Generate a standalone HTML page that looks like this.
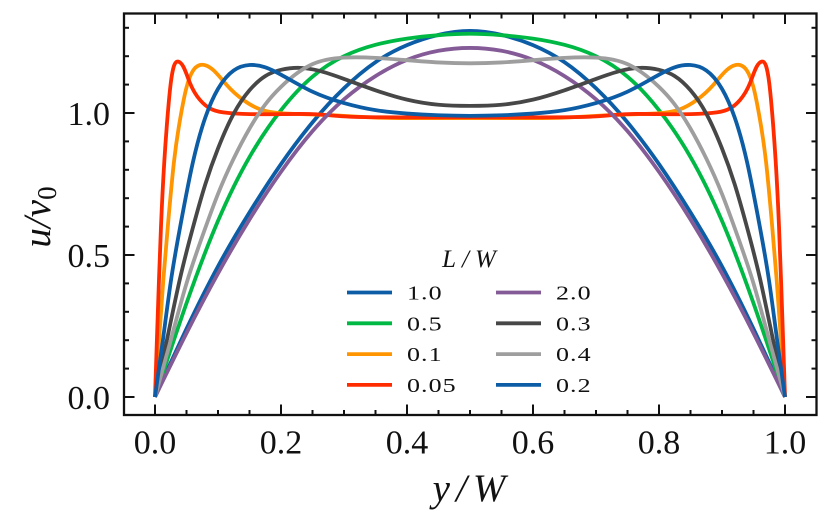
<!DOCTYPE html>
<html lang="en">
<head>
<meta charset="utf-8">
<title>Velocity profiles u/v0 against y/W</title>
<style>
html,body{margin:0;padding:0;background:#fff;width:829px;height:525px;overflow:hidden}
svg{display:block}
text{font-family:"Liberation Serif",serif;fill:#111}
</style>
</head>
<body>
<svg id="chart" width="829" height="525" viewBox="0 0 829 525" xmlns="http://www.w3.org/2000/svg">
  <g id="curves"></g>
  <g id="ticks"></g>
  <rect x="124" y="13.5" width="692.5" height="401.5" fill="none" stroke="#111" stroke-width="2.3"></rect>
  <g id="tick-labels"></g>
  <text x="472" y="501" text-anchor="middle" font-size="39" font-style="italic" letter-spacing="6">y/W</text>
  <text transform="translate(50,217) rotate(-90)" text-anchor="middle" font-size="39" font-style="italic">u/v<tspan font-size="27" font-style="normal" dy="6">0</tspan></text>
  <g id="legend">
    <text x="472" y="267" text-anchor="middle" font-size="25" font-style="italic" letter-spacing="6">L/W</text>
  </g>
</svg>
<script>
var labels = ["1.0","0.5","0.1","0.05","2.0","0.3","0.4","0.2"];
var colors = ["#0C5DA5","#00B945","#FF9500","#FF2C00","#845B97","#474747","#9e9e9e","#0C5DA5"];

var xL10 = [0,.05,.1,.15,.2,.25,.3,.35,.4,.45,.5];
var uL10 = [0,.24,.46,.65,.82,.967,1.087,1.179,1.239,1.275,1.289];

var xL05 = [0,.05,.1,.15,.2,.25,.3,.35,.4,.45,.5];
var uL05 = [0,.33,.62,.845,1.01,1.128,1.2,1.24,1.262,1.274,1.279];

var xL01 = [0,.0064,.0132,.0212,.0302,.04,.05,.06,.07,.08,.0926,.1137,.14,.1667,.2,.25,.3,.35,.4,.5];
var uL01 = [0,.2,.412,.623,.83,.98,1.09,1.148,1.168,1.168,1.151,1.099,1.046,1.013,.999,.995,.99,.984,.982,.982];

var xL005 = [0,.003,.0063,.0095,.0148,.02,.025,.03,.037,.045,.0556,.0714,.0873,.1085,.151,.2,.25,.3,.35,.5];
var uL005 = [0,.2,.412,.6,.83,.99,1.105,1.165,1.181,1.163,1.105,1.046,1.016,1.002,.996,.996,.996,.988,.985,.985];

var xL20 = [0,.05,.1,.15,.2,.25,.3,.35,.4,.45,.5];
var uL20 = [0,.225,.435,.625,.793,.936,1.048,1.13,1.187,1.219,1.229];

var xL03 = [0,.02,.04,.06,.08,.1,.125,.15,.175,.2,.23,.26,.3,.35,.4,.45,.5];
var uL03 = [0,.212,.42,.595,.75,.875,.998,1.08,1.13,1.152,1.159,1.149,1.12,1.08,1.047,1.029,1.025];

var xL04 = [0,.025,.05,.075,.1,.125,.15,.175,.2,.25,.3,.35,.4,.45,.5];
var uL04 = [0,.2,.4,.565,.715,.84,.945,1.03,1.092,1.172,1.195,1.194,1.186,1.178,1.175];

var xL02 = [0,.0125,.025,.04,.06,.08,.1,.125,.15,.175,.2,.25,.3,.35,.4,.45,.5];
var uL02 = [0,.2,.405,.6,.825,.985,1.085,1.15,1.169,1.161,1.135,1.075,1.035,1.01,.998,.992,.99];

var xMajorLabels = ["0.0","0.2","0.4","0.6","0.8","1.0"];
var xMajorValues = [0,.2,.4,.6,.8,1];
var xMinorValues = [.05,.1,.15,.25,.3,.35,.45,.5,.55,.65,.7,.75,.85,.9,.95];
var yMajorLabels = ["0.0","0.5","1.0"];
var yMajorValues = [0,.5,1];
var yMinorValues = [.1,.2,.3,.4,.6,.7,.8,.9,1.1,1.2,1.3];

var allX = [xL10,xL05,xL01,xL005,xL20,xL03,xL04,xL02];
var allU = [uL10,uL05,uL01,uL005,uL20,uL03,uL04,uL02];

var NS = "http://www.w3.org/2000/svg";
function xScale(v){ return 155 + 630 * v; }
function yScale(v){ return 397 - 284 * v; }
function make(tag, attrs, parent){
  var el = document.createElementNS(NS, tag);
  for (var k in attrs) el.setAttribute(k, attrs[k]);
  parent.appendChild(el);
  return el;
}
/* natural cubic spline through the points, emitted as bezier segments */
function splinePath(px, py){
  var n = px.length, h = [], a = [], b = [], c = [], r = [], m = [], i;
  for (i = 0; i < n - 1; i++) h[i] = px[i+1] - px[i];
  b[0] = 1; c[0] = 0; r[0] = 0;
  for (i = 1; i < n - 1; i++){
    a[i] = h[i-1]; b[i] = 2*(h[i-1]+h[i]); c[i] = h[i];
    r[i] = 6*((py[i+1]-py[i])/h[i] - (py[i]-py[i-1])/h[i-1]);
  }
  a[n-1] = 0; b[n-1] = 1; r[n-1] = 0;
  for (i = 1; i < n; i++){
    var w = a[i]/b[i-1];
    b[i] -= w*c[i-1];
    r[i] -= w*r[i-1];
  }
  m[n-1] = r[n-1]/b[n-1];
  for (i = n - 2; i >= 0; i--) m[i] = (r[i]-c[i]*m[i+1])/b[i];
  var s = "M" + px[0].toFixed(2) + " " + py[0].toFixed(2);
  for (i = 0; i < n - 1; i++){
    var d = (py[i+1]-py[i])/h[i];
    var d0 = d - h[i]*(2*m[i]+m[i+1])/6;
    var d1 = d + h[i]*(m[i]+2*m[i+1])/6;
    var t = h[i]/3;
    s += "C" + (px[i]+t).toFixed(2) + " " + (py[i]+d0*t).toFixed(2) + " " +
         (px[i+1]-t).toFixed(2) + " " + (py[i+1]-d1*t).toFixed(2) + " " +
         px[i+1].toFixed(2) + " " + py[i+1].toFixed(2);
  }
  return s;
}
var curves = document.getElementById("curves");
allU.forEach(function(vals, si){
  var xs = allX[si].slice(), ys = vals.slice(), i;
  /* profile is symmetric about y/W = 0.5 */
  for (i = allX[si].length - 2; i >= 0; i--){ xs.push(1 - allX[si][i]); ys.push(vals[i]); }
  var p = make("path", {
    d: splinePath(xs.map(xScale), ys.map(yScale)),
    fill: "none", stroke: colors[si], "stroke-width": 3.8, "stroke-linejoin": "round"
  }, curves);
  
  
});
var ticks = document.getElementById("ticks");
var tickLabels = document.getElementById("tick-labels");
function tick(x1, y1, x2, y2, name){
  var t = make("line", {x1:x1, y1:y1, x2:x2, y2:y2, stroke:"#111", "stroke-width":2}, ticks);
  
  
}
xMajorValues.forEach(function(v, i){
  var x = xScale(v);
  tick(x, 415, x, 404.5, 'x-major-tick');
  tick(x, 13.5, x, 24, 'x-major-tick-top');
  var l = make("text", {x:x, y:453.5, "text-anchor":"middle", "font-size":34}, tickLabels);
  l.textContent = xMajorLabels[i];
  
  
});
xMinorValues.forEach(function(v){
  var x = xScale(v);
  tick(x, 415, x, 410, 'x-minor-tick');
  tick(x, 13.5, x, 18.5, 'x-minor-tick-top');
});
yMajorValues.forEach(function(v, i){
  var y = yScale(v);
  tick(124, y, 134.5, y, 'y-major-tick');
  tick(816.5, y, 806, y, 'y-major-tick-right');
  var l = make("text", {x:110, y:y+12, "text-anchor":"end", "font-size":34}, tickLabels);
  l.textContent = yMajorLabels[i];
  
  
});
yMinorValues.forEach(function(v){
  var y = yScale(v);
  tick(124, y, 129, y, 'y-minor-tick');
  tick(816.5, y, 811.5, y, 'y-minor-tick-right');
});
var legend = document.getElementById("legend");
labels.forEach(function(lab, i){
  var col = i < 4 ? 0 : 1, row = i % 4;
  var ox = col === 0 ? 347 : 496;
  var ly = 292.5 + row * 30.8;
  var ln = make("line", {x1:ox, y1:ly, x2:ox+45, y2:ly, stroke:colors[i], "stroke-width":3.8}, legend);
  
  
  var t = make("text", {transform:"translate(" + (ox+60) + "," + (ly+7) + ") scale(1.3,1)", x:0, y:0, "font-size":20, "letter-spacing":0.8}, legend);
  t.textContent = lab;
  
  
});
</script>
</body>
</html>
